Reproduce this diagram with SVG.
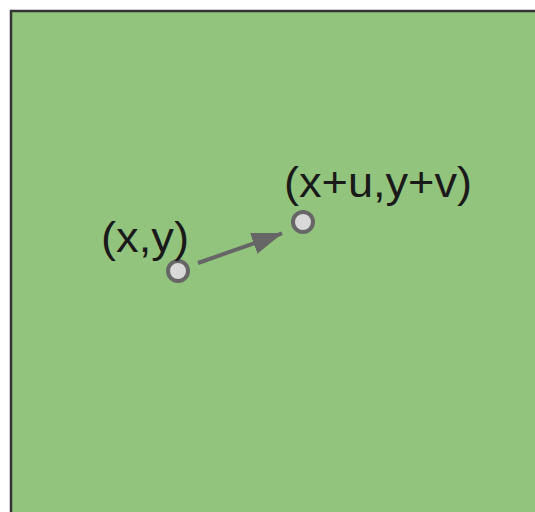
<svg xmlns="http://www.w3.org/2000/svg" width="535" height="512" viewBox="0 0 535 512">
<defs>
<style>
.pt{fill:#d9d9d9;stroke:#666666;stroke-width:4}
.lbl{font-family:"Liberation Sans",Arial,sans-serif;font-size:42px;fill:#1a1a1a}
</style>
<marker id="ah" markerWidth="31" markerHeight="22" refX="30" refY="11" orient="auto" markerUnits="userSpaceOnUse">
<path d="M0,0 L31,11 L0,22 z" fill="#666666"/>
</marker>
</defs>
<rect x="11" y="11" width="540" height="520" fill="#93c47d" stroke="#333333" stroke-width="2.5"/>
<g id="connectors">
<line x1="198" y1="263" x2="282" y2="233.4" stroke="#666666" stroke-width="4" marker-end="url(#ah)"/>
</g>
<g id="p1">
<circle class="pt" cx="178" cy="271" r="10"/>
<text class="lbl" x="101" y="252" textLength="88" lengthAdjust="spacingAndGlyphs">(x,y)</text>
</g>
<g id="p2">
<circle class="pt" cx="303" cy="222" r="10"/>
<text class="lbl" x="284" y="197" textLength="188" lengthAdjust="spacingAndGlyphs">(x+u,y+v)</text>
</g>
</svg>
